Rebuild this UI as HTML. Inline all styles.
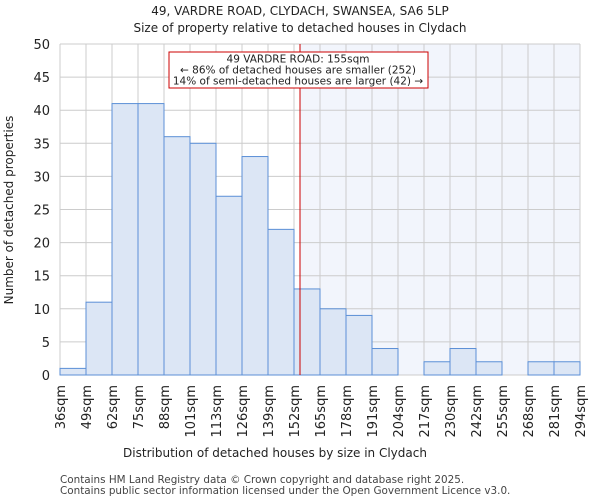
<!DOCTYPE html>
<html><head><meta charset="utf-8"><style>
body{margin:0;background:#fff;}
svg{display:block;font-family:"DejaVu Sans","Liberation Sans",sans-serif;}
</style></head><body>
<svg id="chart" width="600" height="500">
<text x="300" y="15" text-anchor="middle" font-size="12" fill="#222">49, VARDRE ROAD, CLYDACH, SWANSEA, SA6 5LP</text>
<text x="300" y="32" text-anchor="middle" font-size="12" fill="#222">Size of property relative to detached houses in Clydach</text>
<g id="plot"></g>
<text x="275" y="457" text-anchor="middle" font-size="12" fill="#222">Distribution of detached houses by size in Clydach</text>
<text transform="translate(13,210) rotate(-90)" text-anchor="middle" font-size="12" fill="#222">Number of detached properties</text>
<text x="60" y="483" font-size="10.4" fill="#444">Contains HM Land Registry data © Crown copyright and database right 2025.</text>
<text x="60" y="494" font-size="10.4" fill="#444">Contains public sector information licensed under the Open Government Licence v3.0.</text>
</svg>
<script>
const categories=["36sqm","49sqm","62sqm","75sqm","88sqm","101sqm","113sqm","126sqm","139sqm","152sqm","165sqm","178sqm","191sqm","204sqm","217sqm","230sqm","242sqm","255sqm","268sqm","281sqm","294sqm"];
const counts=[1,11,41,41,36,35,27,33,22,13,10,9,4,0,2,4,2,0,2,2];
const yTicks=[0,5,10,15,20,25,30,35,40,45,50];
const markerBin=9+3/13;
const NS="http://www.w3.org/2000/svg";
const x0=60,x1=580,y0=375,y1=44,yMax=50;
const bw=(x1-x0)/counts.length;
const xs=i=>x0+i*bw;
const ys=v=>y0-(v/yMax)*(y0-y1);
const g=document.getElementById('plot');
function mk(t,a){const e=document.createElementNS(NS,t);for(const k in a)e.setAttribute(k,a[k]);g.appendChild(e);return e;}
const mx=xs(markerBin);
let r=mk('rect',{x:mx,y:y1,width:x1-mx,height:y0-y1,fill:'#f2f5fc'});


yTicks.forEach(v=>{
 let l=mk('line',{x1:x0,x2:x1,y1:ys(v),y2:ys(v),stroke:'#ccc','stroke-width':1});
 
 
 let t=mk('text',{x:x0-10,y:ys(v)+5,'text-anchor':'end','font-size':13,fill:'#222'});
 t.textContent=v;
 
 
});
categories.forEach((c,i)=>{
 let l=mk('line',{x1:xs(i),x2:xs(i),y1:y1,y2:y0,stroke:'#ccc','stroke-width':1});
 
 
 let t=mk('text',{transform:`translate(${xs(i)+5},385) rotate(-90)`,'text-anchor':'end','font-size':13,fill:'#222'});
 t.textContent=c;
 
 
});
counts.forEach((v,i)=>{
 let b=mk('rect',{x:xs(i),y:ys(v),width:bw,height:y0-ys(v),fill:'#dce6f5',stroke:'#5b8fd6','stroke-width':1});
 
 
});
let ml=mk('line',{x1:mx,x2:mx,y1:y1,y2:y0,stroke:'#cc0000','stroke-width':1});


let box=mk('rect',{x:169,y:52,width:259,height:36,fill:'#fff',stroke:'#cc0000','stroke-width':1});


["49 VARDRE ROAD: 155sqm","← 86% of detached houses are smaller (252)","14% of semi-detached houses are larger (42) →"].forEach((s,i)=>{
 let t=mk('text',{x:298,y:62.5+i*11,'text-anchor':'middle','font-size':10.5,fill:'#222'});
 t.textContent=s;
 
 
});
</script>
</body></html>
